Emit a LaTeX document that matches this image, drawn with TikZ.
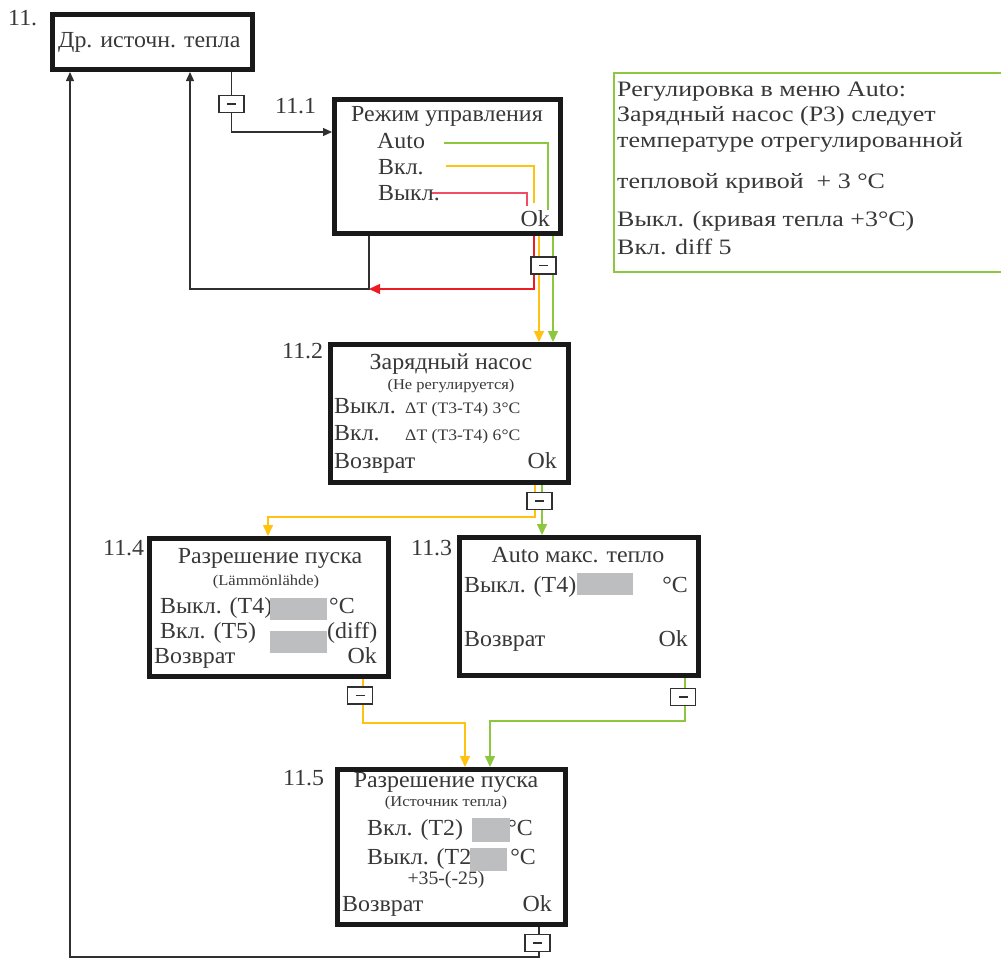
\documentclass[tikz,border=0pt]{standalone}
\usepackage{fontspec}
\setmainfont[FakeStretch=1.04]{Liberation Serif}
\newfontfamily\notefont[FakeStretch=1.18]{Liberation Serif}
\newfontfamily\smallfont[FakeStretch=1.1]{Liberation Serif}
\usetikzlibrary{arrows.meta,calc}
\definecolor{txt}{HTML}{383838}
\definecolor{yel}{HTML}{FFC20E}
\definecolor{grn}{HTML}{8DC63F}
\definecolor{redA}{HTML}{F04E64}
\definecolor{redB}{HTML}{ED1C24}
\definecolor{fld}{HTML}{BCBEC0}
\definecolor{ln}{HTML}{303030}
\newcommand{\fsz}[1]{\fontsize{#1}{#1}\selectfont}
\tikzset{
  menubox/.style={draw=black!90, line width=5pt, inner sep=0pt, fill=white},
  minusbox/.style={draw=ln, line width=1.2pt, fill=white, minimum width=25pt, minimum height=17pt, inner sep=0pt,
    path picture={\draw[ln, line width=1.3pt] ([xshift=-4.5pt]path picture bounding box.center) -- ([xshift=4.5pt]path picture bounding box.center);}},
  tl/.style={anchor=base west, inner sep=0pt, text=txt, font=\fsz{23}},
  tc/.style={anchor=base, inner sep=0pt, text=txt, font=\fsz{23}},
  tr/.style={anchor=base east, inner sep=0pt, text=txt, font=\fsz{23}},
  small/.style={font=\smallfont\fsz{15}},
  smalldt/.style={font=\smallfont\fsz{16}},
  notet/.style={anchor=base west, inner sep=0pt, text=txt, font=\notefont\fsz{22}},
  blk/.style={draw=ln, line width=1.3pt},
  blkarr/.style={blk, -{Triangle[length=9pt,width=8pt]}},
  yl/.style={draw=yel, line width=1.5pt},
  gl/.style={draw=grn, line width=1.5pt},
  rl/.style={draw=redA, line width=1.5pt},
  rlo/.style={draw=redB, line width=1.5pt},
  carr/.style={-{Triangle[length=11pt,width=10pt]}},
  field/.style={fill=fld, draw=none}
}
\begin{document}
\begin{tikzpicture}[x=1pt,y=-1pt]
\useasboundingbox (0,0) rectangle (1001,959);
% boxes
\node[menubox, minimum width=200pt, minimum height=55pt] (b11) at (152.5,42) {};
\node[menubox, minimum width=226pt, minimum height=133.5pt] (b111) at (447.5,166.25) {};
\node[menubox, minimum width=238.5pt, minimum height=138pt] (b112) at (449.25,413.5) {};
\node[menubox, minimum width=239pt, minimum height=138pt] (b114) at (269,607.5) {};
\node[menubox, minimum width=239pt, minimum height=138pt] (b113) at (579,606.5) {};
\node[menubox, minimum width=227.5pt, minimum height=155pt] (b115) at (451.25,847) {};
% note box
\draw[grn, line width=2.2pt] (1005,73) -- (614,73) -- (614,272) -- (1005,272);
% helper coordinates
\coordinate (x70) at (70,0);
\coordinate (x190) at (190,0);
\coordinate (x231) at (231.5,0);
\coordinate (x268) at (268,0);
\coordinate (x363) at (363,0);
\coordinate (x369) at (369,0);
\coordinate (x465) at (465,0);
\coordinate (x490) at (490,0);
\coordinate (x534) at (534,0);
\coordinate (x535) at (535,0);
\coordinate (x539) at (539,0);
\coordinate (x542) at (542,0);
\coordinate (x553) at (553,0);
\coordinate (x685) at (685,0);
\coordinate (rj) at (369,289);
% connectors
\draw[blkarr] (b11.south -| x231) -- (231.5,132) -- (b111.west |- 0,132);
\draw[blkarr] (b111.south -| x369) -- (369,289) -- (190,289) -- (b11.south -| x190);
\draw[rlo, carr] (b111.south -| x534) -- (534,289) -- (rj);
\draw[yl, carr] (b111.south -| x539) -- (b112.north -| x539);
\draw[gl, carr] (b111.south -| x553) -- (b112.north -| x553);
\draw[yl, carr] (b112.south -| x535) -- (535,517) -- (268,517) -- (b114.north -| x268);
\draw[gl, carr] (b112.south -| x542) -- (b113.north -| x542);
\draw[yl, carr] (b114.south -| x363) -- (363,723) -- (465,723) -- (b115.north -| x465);
\draw[gl, carr] (b113.south -| x685) -- (685,721) -- (490,721) -- (b115.north -| x490);
\draw[blkarr] (b115.south -| x539) -- (539,957) -- (70,957) -- (b11.south -| x70);
% inner selection lines in 11.1
\draw[gl] (444,143) -- (548,143) -- (548,210);
\draw[yl] (446,166) -- (534,166) -- (534,203);
\draw[rl] (430,193) -- (527,193) -- (527,206);
% minus boxes
\node[minusbox] (m1) at (231.5,104) {};
\node[minusbox] (m2) at (543.5,265.5) {};
\node[minusbox] (m3) at (539.5,501) {};
\node[minusbox] (m4) at (360,695.5) {};
\node[minusbox] (m5) at (683,697) {};
\node[minusbox] (m6) at (537.5,943) {};
% labels
\node[tl] (l11) at (8,25) {11.};
\node[tl] (l111) at (275,113) {11.1};
\node[tl] (l112) at (282,358) {11.2};
\node[tl] (l114) at (103,555) {11.4};
\node[tl] (l113) at (411,555) {11.3};
\node[tl] (l115) at (283,785) {11.5};
% box 11
\node[tl] (t11) at (58,47) {Др. источн. тепла};
% box 11.1
\node[tc] (t111a) at (447,121) {Режим управления};
\node[tl] (t111b) at (377,148) {Auto};
\node[tl] (t111c) at (378,174) {Вкл.};
\node[tl] (t111d) at (378,200) {Выкл.};
\node[tr] (t111e) at (550,226) {Ok};
% box 11.2
\node[tc] (t112a) at (451,369) {Зарядный насос};
\node[tc, small] (t112b) at (451,389) {(Не регулируется)};
\node[tl] (t112c) at (334,413) {Выкл.};
\node[tl, smalldt] (t112d) at (405,413) {ΔT (T3-T4) 3°C};
\node[tl] (t112e) at (334,440) {Вкл.};
\node[tl, smalldt] (t112f) at (405,440) {ΔT (T3-T4) 6°C};
\node[tl] (t112g) at (334,468) {Возврат};
\node[tr] (t112h) at (557,468) {Ok};
% box 11.4
\node[tc] (t114a) at (270,563) {Разрешение пуска};
\node[tc, small] (t114b) at (266,585) {(Lämmönlähde)};
\node[tl] (t114c) at (160,613) {Выкл. (T4)};
\fill[field] (270,598) rectangle (327,620);
\node[tl] (t114d) at (329,613) {°C};
\node[tl] (t114e) at (160,638) {Вкл. (T5)};
\fill[field] (270,631) rectangle (327,653);
\node[tl] (t114f) at (327,638) {(diff)};
\node[tl] (t114g) at (154,663) {Возврат};
\node[tr] (t114h) at (377,663) {Ok};
% box 11.3
\node[tc] (t113a) at (578,562) {Auto макс. тепло};
\node[tl] (t113b) at (464,592) {Выкл. (T4)};
\fill[field] (577,573) rectangle (633,595);
\node[tr] (t113c) at (688,592) {°C};
\node[tl] (t113d) at (464,646) {Возврат};
\node[tr] (t113e) at (688,646) {Ok};
% box 11.5
\node[tc] (t115a) at (446,787) {Разрешение пуска};
\node[tc, small] (t115b) at (446,806) {(Источник тепла)};
\node[tl] (t115c) at (367,835) {Вкл. (T2)};
\node[tr] (t115d) at (533,835) {°C};
\fill[field] (472,818) rectangle (510,842);
\node[tl] (t115e) at (367,864) {Выкл. (T2)};
\fill[field] (470,848) rectangle (507,871);
\node[tr] (t115f) at (536,864) {°C};
\node[tc, font=\fsz{19}] (t115g) at (446,884) {+35-(-25)};
\node[tl] (t115h) at (342,911) {Возврат};
\node[tr] (t115i) at (552,911) {Ok};
% note text
\node[notet] (n1) at (617,96) {Регулировка в меню Auto:};
\node[notet] (n2) at (617,121) {Зарядный насос (P3) следует};
\node[notet] (n3) at (617,147) {температуре отрегулированной};
\node[notet] (n4) at (617,188) {тепловой кривой \ + 3 °C};
\node[notet] (n5) at (617,226) {Выкл. (кривая тепла +3°C)};
\node[notet] (n6) at (617,254) {Вкл. diff 5};
\end{tikzpicture}
\end{document}
